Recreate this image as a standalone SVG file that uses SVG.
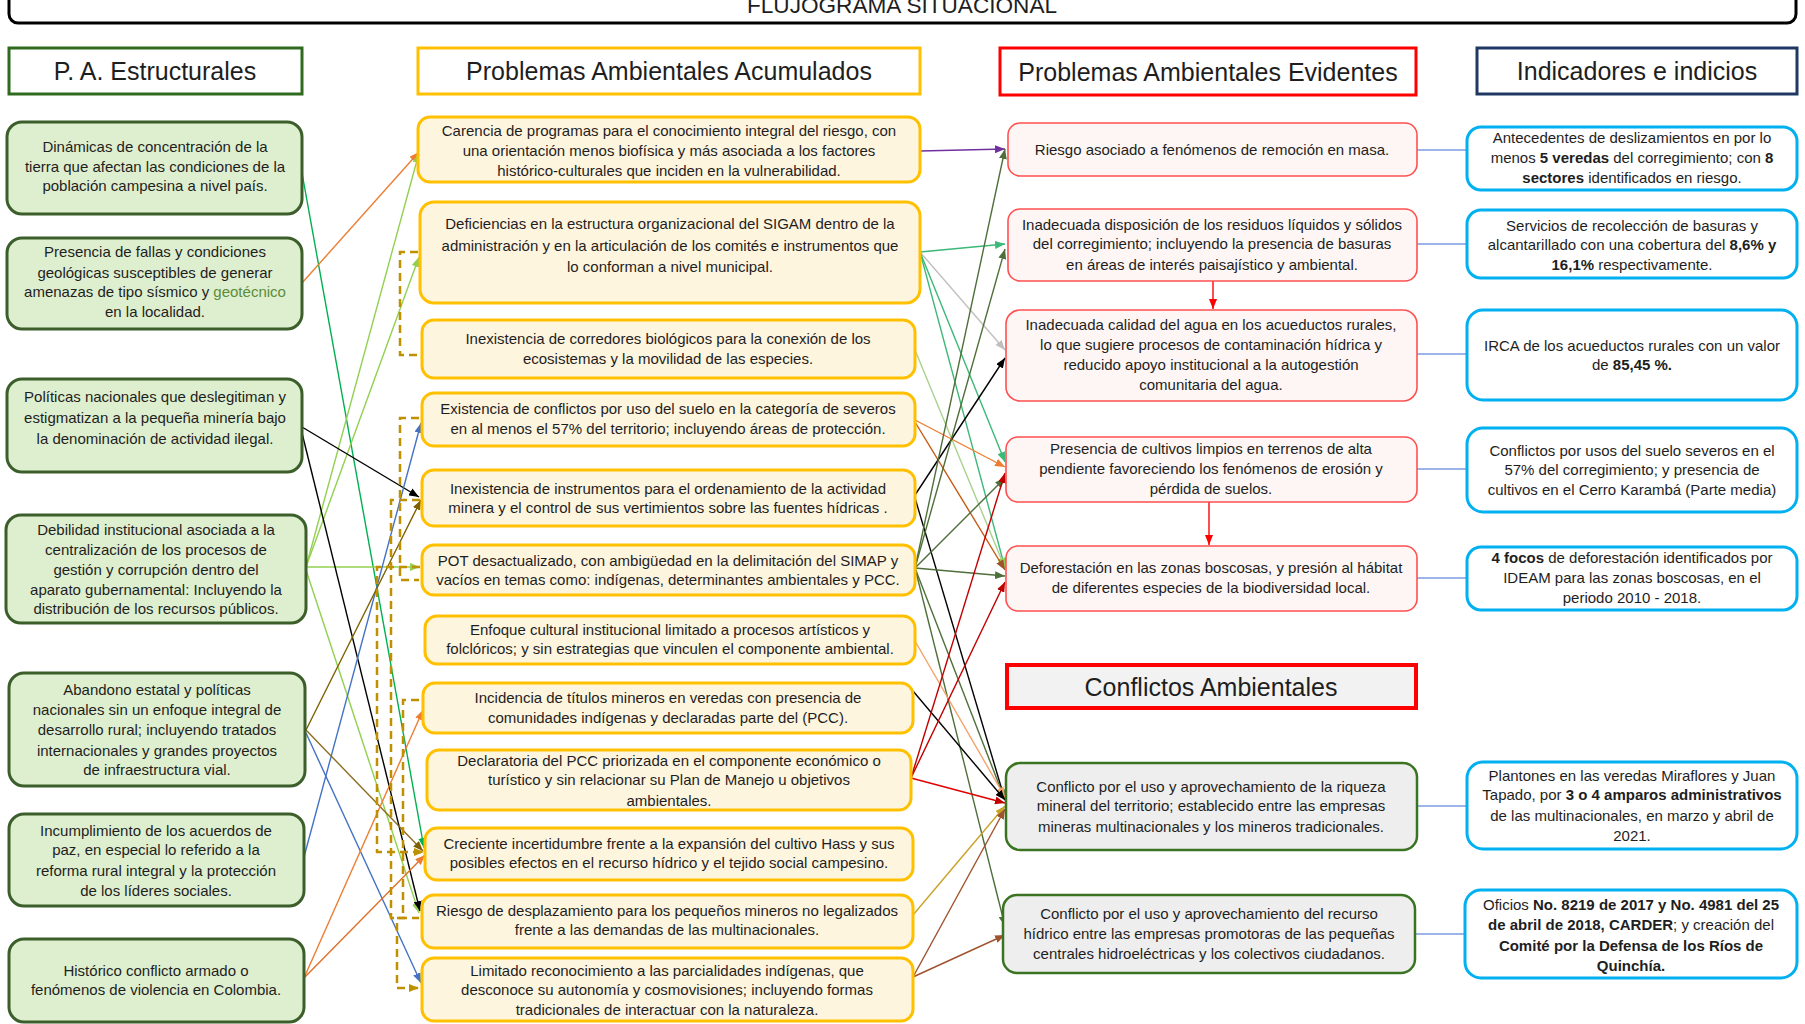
<svg xmlns="http://www.w3.org/2000/svg" width="1805" height="1024" viewBox="0 0 1805 1024">
<style>
text{font-family:"Liberation Sans",Arial,sans-serif;font-size:15px;fill:#1e1e1e;text-anchor:middle}
.h{font-size:25px}
.ttl{font-size:22.6px}
.b{font-weight:bold}
.hdr{fill:#fff;stroke-width:3}
.s{fill:#deefcf;stroke:#3b5e2b;stroke-width:3}
.a{fill:#fef5de;stroke:#ffc000;stroke-width:3}
.e{fill:#fdf6f4;stroke:#ff5050;stroke-width:1.6}
.c{fill:#eeeeee;stroke:#3a7322;stroke-width:2.5}
.i{fill:#fff;stroke:#00b0f0;stroke-width:3}
#connectors line,#connectors path{fill:none;stroke-width:1.4}
.dash{stroke:#bf9000;stroke-width:2.5!important;stroke-dasharray:8 5}
.ind{stroke:#7b9be0}
</style>
<defs>
<marker id="m-purple" markerUnits="userSpaceOnUse" markerWidth="10" markerHeight="8" refX="10" refY="4" orient="auto"><path d="M0,0L10,4L0,8z" fill="#7030a0"/></marker>
<marker id="m-teal" markerUnits="userSpaceOnUse" markerWidth="10" markerHeight="8" refX="10" refY="4" orient="auto"><path d="M0,0L10,4L0,8z" fill="#3cb878"/></marker>
<marker id="m-gray" markerUnits="userSpaceOnUse" markerWidth="10" markerHeight="8" refX="10" refY="4" orient="auto"><path d="M0,0L10,4L0,8z" fill="#bfbfbf"/></marker>
<marker id="m-lgreen" markerUnits="userSpaceOnUse" markerWidth="10" markerHeight="8" refX="10" refY="4" orient="auto"><path d="M0,0L10,4L0,8z" fill="#92d050"/></marker>
<marker id="m-sgreen" markerUnits="userSpaceOnUse" markerWidth="10" markerHeight="8" refX="10" refY="4" orient="auto"><path d="M0,0L10,4L0,8z" fill="#00b050"/></marker>
<marker id="m-orange" markerUnits="userSpaceOnUse" markerWidth="10" markerHeight="8" refX="10" refY="4" orient="auto"><path d="M0,0L10,4L0,8z" fill="#ed7d31"/></marker>
<marker id="m-lorange" markerUnits="userSpaceOnUse" markerWidth="10" markerHeight="8" refX="10" refY="4" orient="auto"><path d="M0,0L10,4L0,8z" fill="#f4a36b"/></marker>
<marker id="m-brown" markerUnits="userSpaceOnUse" markerWidth="10" markerHeight="8" refX="10" refY="4" orient="auto"><path d="M0,0L10,4L0,8z" fill="#a0522d"/></marker>
<marker id="m-olive" markerUnits="userSpaceOnUse" markerWidth="10" markerHeight="8" refX="10" refY="4" orient="auto"><path d="M0,0L10,4L0,8z" fill="#7f6000"/></marker>
<marker id="m-black" markerUnits="userSpaceOnUse" markerWidth="10" markerHeight="8" refX="10" refY="4" orient="auto"><path d="M0,0L10,4L0,8z" fill="#000"/></marker>
<marker id="m-dgreen" markerUnits="userSpaceOnUse" markerWidth="10" markerHeight="8" refX="10" refY="4" orient="auto"><path d="M0,0L10,4L0,8z" fill="#4f6f3a"/></marker>
<marker id="m-red" markerUnits="userSpaceOnUse" markerWidth="10" markerHeight="8" refX="10" refY="4" orient="auto"><path d="M0,0L10,4L0,8z" fill="#c00000"/></marker>
<marker id="m-bred" markerUnits="userSpaceOnUse" markerWidth="10" markerHeight="8" refX="10" refY="4" orient="auto"><path d="M0,0L10,4L0,8z" fill="#ff0000"/></marker>
<marker id="m-gold" markerUnits="userSpaceOnUse" markerWidth="10" markerHeight="8" refX="10" refY="4" orient="auto"><path d="M0,0L10,4L0,8z" fill="#c9a227"/></marker>
<marker id="m-blue" markerUnits="userSpaceOnUse" markerWidth="10" markerHeight="8" refX="10" refY="4" orient="auto"><path d="M0,0L10,4L0,8z" fill="#4472c4"/></marker>
<marker id="m-dash" markerUnits="userSpaceOnUse" markerWidth="10" markerHeight="8" refX="10" refY="4" orient="auto"><path d="M0,0L10,4L0,8z" fill="#bf9000"/></marker>
</defs>
<rect width="1805" height="1024" fill="#fff"/>

<g id="title"><rect x="9" y="-40" width="1787" height="63" rx="9" fill="#fff" stroke="#000" stroke-width="3"/><text class="ttl" x="902" y="13">FLUJOGRAMA SITUACIONAL</text></g>

<g id="h-estructurales"><rect class="hdr" x="9" y="48" width="293" height="46" stroke="#2e6b1f"/><text class="h" x="155" y="80">P. A. Estructurales</text></g>
<g id="h-acumulados"><rect class="hdr" x="418" y="48" width="502" height="46" stroke="#ffc000"/><text class="h" x="669" y="80">Problemas Ambientales Acumulados</text></g>
<g id="h-evidentes"><rect class="hdr" x="1000" y="48" width="416" height="47" stroke="#ff0000" stroke-width="4"/><text class="h" x="1208" y="81">Problemas Ambientales Evidentes</text></g>
<g id="h-indicadores"><rect class="hdr" x="1477" y="48" width="320" height="46" stroke="#1f3864"/><text class="h" x="1637" y="80">Indicadores e indicios</text></g>
<g id="h-conflictos"><rect x="1007" y="665" width="409" height="43" fill="#f2f2f2" stroke="#ff0000" stroke-width="4"/><text class="h" x="1211" y="696">Conflictos Ambientales</text></g>

<g id="connectors">
<!-- estructurales -> acumulados -->
<line x1="302" y1="173" x2="424" y2="848" stroke="#00b050" marker-end="url(#m-sgreen)"/>
<line x1="302" y1="283" x2="419" y2="152" stroke="#ed7d31" marker-end="url(#m-orange)"/>
<line x1="306" y1="567" x2="419" y2="153" stroke="#92d050" marker-end="url(#m-lgreen)"/>
<line x1="306" y1="567" x2="419" y2="257" stroke="#92d050" marker-end="url(#m-lgreen)"/>
<line x1="306" y1="567" x2="420" y2="567" stroke="#92d050" marker-end="url(#m-lgreen)"/>
<line x1="306" y1="570" x2="419" y2="913" stroke="#92d050" marker-end="url(#m-lgreen)"/>
<line x1="302" y1="427" x2="419" y2="497" stroke="#000" marker-end="url(#m-black)"/>
<line x1="302" y1="433" x2="420" y2="911" stroke="#000" marker-end="url(#m-black)"/>
<line x1="304" y1="857" x2="421" y2="423" stroke="#4472c4" marker-end="url(#m-blue)"/>
<line x1="306" y1="730" x2="421" y2="500" stroke="#7f6000" marker-end="url(#m-olive)"/>
<line x1="306" y1="730" x2="423" y2="851" stroke="#8c6d1f" marker-end="url(#m-olive)"/>
<line x1="306" y1="733" x2="421" y2="983" stroke="#4472c4" marker-end="url(#m-blue)"/>
<line x1="304" y1="978" x2="423" y2="710" stroke="#ed7d31" marker-end="url(#m-orange)"/>
<line x1="304" y1="978" x2="425" y2="855" stroke="#e0702a" marker-end="url(#m-orange)"/>
<!-- dashed relations among acumulados -->
<path class="dash" d="M418,252H400V355H418"/>
<path class="dash" d="M419,418H400V580H419"/>
<path class="dash" d="M420,500H391V918H419"/>
<path class="dash" d="M420,567H377V852H424" marker-end="url(#m-dash)"/>
<path class="dash" d="M419,700H403V918"/>
<path class="dash" d="M405,918H397V988H419" marker-end="url(#m-dash)"/>
<!-- acumulados -> evidentes / conflictos -->
<line x1="920" y1="151" x2="1005" y2="149" stroke="#7030a0" marker-end="url(#m-purple)"/>
<line x1="920" y1="252" x2="1005" y2="244" stroke="#3cb878" marker-end="url(#m-teal)"/>
<line x1="920" y1="252" x2="1005" y2="350" stroke="#bfbfbf" marker-end="url(#m-gray)"/>
<line x1="920" y1="252" x2="1005" y2="462" stroke="#3cb878" marker-end="url(#m-teal)"/>
<line x1="920" y1="252" x2="1005" y2="568" stroke="#3cb878" marker-end="url(#m-teal)"/>
<line x1="915" y1="350" x2="1005" y2="568" stroke="#a9d18e" marker-end="url(#m-lgreen)"/>
<line x1="915" y1="420" x2="1005" y2="467" stroke="#ed7d31" marker-end="url(#m-orange)"/>
<line x1="915" y1="422" x2="1005" y2="570" stroke="#c55a11" marker-end="url(#m-brown)"/>
<line x1="915" y1="495" x2="1005" y2="358" stroke="#000" marker-end="url(#m-black)"/>
<line x1="915" y1="498" x2="1005" y2="800" stroke="#000" marker-end="url(#m-black)"/>
<line x1="915" y1="568" x2="1005" y2="149" stroke="#4f6f3a" marker-end="url(#m-dgreen)"/>
<line x1="915" y1="568" x2="1005" y2="249" stroke="#4f6f3a" marker-end="url(#m-dgreen)"/>
<line x1="915" y1="568" x2="1005" y2="478" stroke="#4f6f3a" marker-end="url(#m-dgreen)"/>
<line x1="915" y1="568" x2="1005" y2="576" stroke="#4f6f3a" marker-end="url(#m-dgreen)"/>
<line x1="915" y1="568" x2="1005" y2="800" stroke="#4f6f3a" marker-end="url(#m-dgreen)"/>
<line x1="915" y1="568" x2="1005" y2="926" stroke="#4f6f3a" marker-end="url(#m-dgreen)"/>
<line x1="915" y1="641" x2="1005" y2="797" stroke="#f4a36b" marker-end="url(#m-lorange)"/>
<line x1="913" y1="691" x2="1005" y2="800" stroke="#000" marker-end="url(#m-black)"/>
<line x1="911" y1="778" x2="1005" y2="473" stroke="#c00000" marker-end="url(#m-red)"/>
<line x1="911" y1="778" x2="1005" y2="582" stroke="#c00000" marker-end="url(#m-red)"/>
<line x1="911" y1="778" x2="1005" y2="803" stroke="#e00000" marker-end="url(#m-red)"/>
<line x1="913" y1="915" x2="1005" y2="806" stroke="#c9a227" marker-end="url(#m-gold)"/>
<line x1="913" y1="977" x2="1005" y2="809" stroke="#a0522d" marker-end="url(#m-brown)"/>
<line x1="913" y1="977" x2="1005" y2="935" stroke="#a0522d" marker-end="url(#m-brown)"/>
<!-- evidentes internal -->
<line x1="1213" y1="281" x2="1213" y2="309" stroke="#ff0000" marker-end="url(#m-bred)"/>
<line x1="1209" y1="502" x2="1209" y2="545" stroke="#ff0000" marker-end="url(#m-bred)"/>
<!-- evidentes -> indicadores -->
<line class="ind" x1="1417" y1="150" x2="1467" y2="150"/>
<line class="ind" x1="1417" y1="244" x2="1467" y2="244"/>
<line class="ind" x1="1417" y1="354" x2="1467" y2="354"/>
<line class="ind" x1="1417" y1="469" x2="1467" y2="469"/>
<line class="ind" x1="1417" y1="578" x2="1467" y2="578"/>
<line class="ind" x1="1417" y1="806" x2="1467" y2="806"/>
<line class="ind" x1="1415" y1="934" x2="1465" y2="934"/>
</g>

<!-- Estructurales -->
<g id="s1"><rect class="s" x="7" y="122" width="295" height="92" rx="15"/><text x="155" y="152">Dinámicas de concentración de la</text><text x="155" y="172">tierra que afectan las condiciones de la</text><text x="155" y="191">población campesina a nivel país.</text></g>
<g id="s2"><rect class="s" x="7" y="238" width="295" height="91" rx="15"/><text x="155" y="257">Presencia de fallas y condiciones</text><text x="155" y="278">geológicas susceptibles de generar</text><text x="155" y="297">amenazas de tipo sísmico y <tspan fill="#5b8c3a">geotécnico</tspan></text><text x="155" y="317">en la localidad.</text></g>
<g id="s3"><rect class="s" x="7" y="379" width="295" height="93" rx="15"/><text x="155" y="402">Políticas nacionales que deslegitiman y</text><text x="155" y="423">estigmatizan a la pequeña minería bajo</text><text x="155" y="444">la denominación de actividad ilegal.</text></g>
<g id="s4"><rect class="s" x="6" y="515" width="300" height="108" rx="15"/><text x="156" y="535">Debilidad institucional asociada a la</text><text x="156" y="555">centralización de los procesos de</text><text x="156" y="575">gestión y corrupción dentro del</text><text x="156" y="595">aparato gubernamental: Incluyendo la</text><text x="156" y="614">distribución de los recursos públicos.</text></g>
<g id="s5"><rect class="s" x="9" y="673" width="296" height="113" rx="15"/><text x="157" y="695">Abandono estatal y políticas</text><text x="157" y="715">nacionales sin un enfoque integral de</text><text x="157" y="735">desarrollo rural; incluyendo tratados</text><text x="157" y="756">internacionales y grandes proyectos</text><text x="157" y="775">de infraestructura vial.</text></g>
<g id="s6"><rect class="s" x="9" y="814" width="295" height="92" rx="15"/><text x="156" y="836">Incumplimiento de los acuerdos de</text><text x="156" y="855">paz, en especial lo referido a la</text><text x="156" y="876">reforma rural integral y la protección</text><text x="156" y="896">de los líderes sociales.</text></g>
<g id="s7"><rect class="s" x="9" y="939" width="295" height="83" rx="15"/><text x="156" y="976">Histórico conflicto armado o</text><text x="156" y="995">fenómenos de violencia en Colombia.</text></g>

<!-- Acumulados -->
<g id="a1"><rect class="a" x="418" y="117" width="502" height="65" rx="12"/><text x="669" y="136">Carencia de programas para el conocimiento integral del riesgo, con</text><text x="669" y="156">una orientación menos biofísica y más asociada a los factores</text><text x="669" y="176">histórico-culturales que inciden en la vulnerabilidad.</text></g>
<g id="a2"><rect class="a" x="420" y="202" width="500" height="101" rx="14"/><text x="670" y="229">Deficiencias en la estructura organizacional del SIGAM dentro de la</text><text x="670" y="251">administración y en la articulación de los comités e instrumentos que</text><text x="670" y="272">lo conforman a nivel municipal.</text></g>
<g id="a3"><rect class="a" x="422" y="320" width="493" height="58" rx="12"/><text x="668" y="344">Inexistencia de corredores biológicos para la conexión de los</text><text x="668" y="364">ecosistemas y la movilidad de las especies.</text></g>
<g id="a4"><rect class="a" x="422" y="393" width="493" height="53" rx="12"/><text x="668" y="414">Existencia de conflictos por uso del suelo en la categoría de severos</text><text x="668" y="434">en al menos el 57% del territorio; incluyendo áreas de protección.</text></g>
<g id="a5"><rect class="a" x="422" y="470" width="493" height="56" rx="12"/><text x="668" y="494">Inexistencia de instrumentos para el ordenamiento de la actividad</text><text x="668" y="513">minera y el control de sus vertimientos sobre las fuentes hídricas .</text></g>
<g id="a6"><rect class="a" x="422" y="545" width="493" height="50" rx="12"/><text x="668" y="566">POT desactualizado, con ambigüedad en la delimitación del SIMAP y</text><text x="668" y="585">vacíos en temas como: indígenas, determinantes ambientales y PCC.</text></g>
<g id="a7"><rect class="a" x="425" y="616" width="490" height="48" rx="12"/><text x="670" y="635">Enfoque cultural institucional limitado a procesos artísticos y</text><text x="670" y="654">folclóricos; y sin estrategias que vinculen el componente ambiental.</text></g>
<g id="a8"><rect class="a" x="423" y="683" width="490" height="50" rx="12"/><text x="668" y="703">Incidencia de títulos mineros en veredas con presencia de</text><text x="668" y="723">comunidades indígenas y declaradas parte del (PCC).</text></g>
<g id="a9"><rect class="a" x="427" y="750" width="484" height="60" rx="12"/><text x="669" y="766">Declaratoria del PCC priorizada en el componente económico o</text><text x="669" y="785">turístico y sin relacionar su Plan de Manejo u objetivos</text><text x="669" y="806">ambientales.</text></g>
<g id="a10"><rect class="a" x="425" y="828" width="488" height="52" rx="12"/><text x="669" y="849">Creciente incertidumbre frente a la expansión del cultivo Hass y sus</text><text x="669" y="868">posibles efectos en el recurso hídrico y el tejido social campesino.</text></g>
<g id="a11"><rect class="a" x="422" y="895" width="491" height="53" rx="12"/><text x="667" y="916">Riesgo de desplazamiento para los pequeños mineros no legalizados</text><text x="667" y="935">frente a las demandas de las multinacionales.</text></g>
<g id="a12"><rect class="a" x="422" y="958" width="491" height="63" rx="12"/><text x="667" y="976">Limitado reconocimiento a las parcialidades indígenas, que</text><text x="667" y="995">desconoce su autonomía y cosmovisiones; incluyendo formas</text><text x="667" y="1015">tradicionales de interactuar con la naturaleza.</text></g>

<!-- Evidentes -->
<g id="e1"><rect class="e" x="1008" y="123" width="409" height="53" rx="12"/><text x="1212" y="155">Riesgo asociado a fenómenos de remoción en masa.</text></g>
<g id="e2"><rect class="e" x="1008" y="209" width="409" height="72" rx="12"/><text x="1212" y="230">Inadecuada disposición de los residuos líquidos y sólidos</text><text x="1212" y="249">del corregimiento; incluyendo la presencia de basuras</text><text x="1212" y="270">en áreas de interés paisajístico y ambiental.</text></g>
<g id="e3"><rect class="e" x="1006" y="310" width="411" height="91" rx="14"/><text x="1211" y="330">Inadecuada calidad del agua en los acueductos rurales,</text><text x="1211" y="350">lo que sugiere procesos de contaminación hídrica y</text><text x="1211" y="370">reducido apoyo institucional a la autogestión</text><text x="1211" y="390">comunitaria del agua.</text></g>
<g id="e4"><rect class="e" x="1006" y="437" width="411" height="65" rx="12"/><text x="1211" y="454">Presencia de cultivos limpios en terrenos de alta</text><text x="1211" y="474">pendiente favoreciendo los fenómenos de erosión y</text><text x="1211" y="494">pérdida de suelos.</text></g>
<g id="e5"><rect class="e" x="1006" y="546" width="411" height="65" rx="12"/><text x="1211" y="573">Deforestación en las zonas boscosas, y presión al hábitat</text><text x="1211" y="593">de diferentes especies de la biodiversidad local.</text></g>

<!-- Conflictos -->
<g id="c1"><rect class="c" x="1006" y="763" width="411" height="87" rx="14"/><text x="1211" y="792">Conflicto por el uso y aprovechamiento de la riqueza</text><text x="1211" y="811">mineral del territorio; establecido entre las empresas</text><text x="1211" y="832">mineras multinacionales y los mineros tradicionales.</text></g>
<g id="c2"><rect class="c" x="1003" y="895" width="412" height="78" rx="14"/><text x="1209" y="919">Conflicto por el uso y aprovechamiento del recurso</text><text x="1209" y="939">hídrico entre las empresas promotoras de las pequeñas</text><text x="1209" y="959">centrales hidroeléctricas y los colectivos ciudadanos.</text></g>

<!-- Indicadores -->
<g id="i1"><rect class="i" x="1467" y="127" width="330" height="63" rx="14"/><text x="1632" y="143">Antecedentes de deslizamientos en por lo</text><text x="1632" y="163">menos <tspan class="b">5 veredas</tspan> del corregimiento; con <tspan class="b">8</tspan></text><text x="1632" y="183"><tspan class="b">sectores</tspan> identificados en riesgo.</text></g>
<g id="i2"><rect class="i" x="1467" y="210" width="330" height="68" rx="14"/><text x="1632" y="231">Servicios de recolección de basuras y</text><text x="1632" y="250">alcantarillado con una cobertura del <tspan class="b">8,6% y</tspan></text><text x="1632" y="270"><tspan class="b">16,1%</tspan> respectivamente.</text></g>
<g id="i3"><rect class="i" x="1467" y="310" width="330" height="90" rx="16"/><text x="1632" y="351">IRCA de los acueductos rurales con un valor</text><text x="1632" y="370">de <tspan class="b">85,45 %.</tspan></text></g>
<g id="i4"><rect class="i" x="1467" y="428" width="330" height="84" rx="16"/><text x="1632" y="456">Conflictos por usos del suelo severos en el</text><text x="1632" y="475">57%  del corregimiento; y presencia de</text><text x="1632" y="495">cultivos en el Cerro Karambá (Parte media)</text></g>
<g id="i5"><rect class="i" x="1467" y="547" width="330" height="63" rx="14"/><text x="1632" y="563"><tspan class="b">4 focos</tspan> de deforestación identificados por</text><text x="1632" y="583">IDEAM para las zonas boscosas, en el</text><text x="1632" y="603">periodo 2010 - 2018.</text></g>
<g id="i6"><rect class="i" x="1467" y="762" width="330" height="87" rx="16"/><text x="1632" y="781">Plantones en las veredas Miraflores y Juan</text><text x="1632" y="800">Tapado, por <tspan class="b">3 o 4 amparos administrativos</tspan></text><text x="1632" y="821">de las multinacionales, en marzo y abril de</text><text x="1632" y="841">2021.</text></g>
<g id="i7"><rect class="i" x="1465" y="890" width="332" height="88" rx="16"/><text x="1631" y="910">Oficios <tspan class="b">No. 8219  de 2017  y No. 4981  del 25</tspan></text><text x="1631" y="930"><tspan class="b">de abril de 2018,  CARDER</tspan>; y creación del</text><text x="1631" y="951" class="b">Comité por la Defensa de los Ríos de</text><text x="1631" y="971" class="b">Quinchía.</text></g>
</svg>
